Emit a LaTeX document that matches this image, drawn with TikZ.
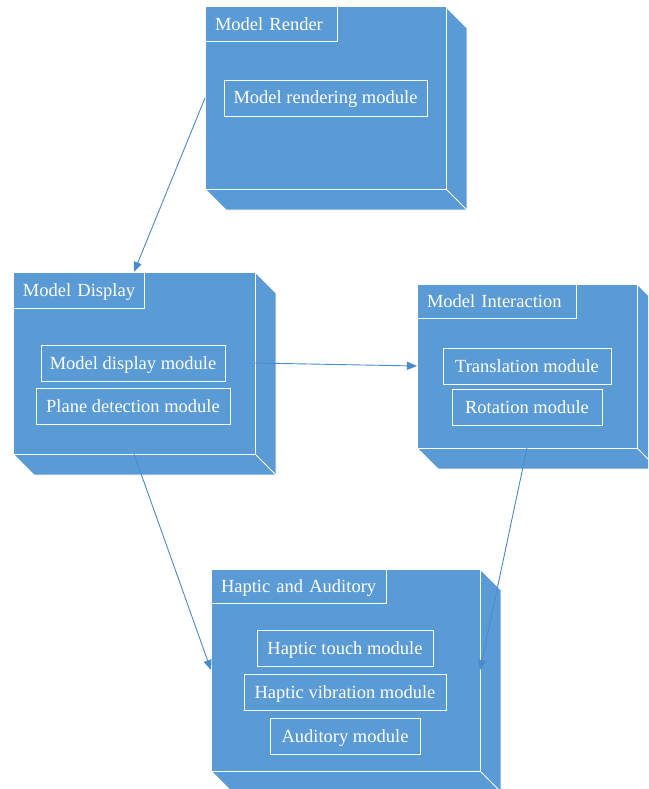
\documentclass[tikz,border=0pt]{standalone}
\usepackage{fontspec}
\setmainfont{Liberation Serif}
\usetikzlibrary{arrows.meta}
\definecolor{boxblue}{HTML}{5B9BD5}
\definecolor{arrblue}{HTML}{4A8BCB}
\tikzset{
  front/.style={draw=white, fill=boxblue, line width=1pt, inner sep=0pt, outer sep=0pt},
  extr/.style={fill=boxblue, draw=white, line width=1pt},
  tab/.style={draw=white, fill=boxblue, line width=1pt, text=white, align=left, inner xsep=10pt, inner ysep=0pt, outer sep=0pt, anchor=north west, text height=14pt, text depth=2pt, font=\fontsize{18.5pt}{22pt}\selectfont},
  module/.style={draw=white, line width=0.9pt, text=white, inner sep=0pt, outer sep=0pt, minimum height=36pt, text height=14pt, text depth=2pt, font=\fontsize{18.5pt}{22pt}\selectfont},
  conn/.style={draw=arrblue, line width=0.9pt, -{Triangle[length=10pt,width=8pt]}}
}
\newcommand\pkgbox[5]{%
  \path[extr] (#2,#3) -- ++(#4,0) -- ++(21,21) -- ++(0,#5) -- ++(-#4,0) -- ++(-21,-21) -- cycle;
  \node[front, minimum width=#4pt, minimum height=#5pt, anchor=north west] (#1) at (#2,#3) {};
  \draw[white, line width=1pt] (#1.south east) -- ++(21,21);
}
\begin{document}
\begin{tikzpicture}[x=1pt,y=-1pt]
\clip (0,0) rectangle (648,789);
\fill[white] (0,0) rectangle (648,789);

% Model Render
\pkgbox{render}{205}{7}{241}{182}
\node[tab, text width=112pt, minimum height=35pt] (renderT) at (render.north west) {\mbox{Model Render}};
\node[module, minimum width=203pt] (renderM) at (325.5,98) {Model rendering module};

% Model Display
\pkgbox{display}{13}{272}{242}{182}
\node[tab, text width=111pt, minimum height=36pt] (displayT) at (display.north west) {\mbox{Model Display}};
\node[module, minimum width=184pt] (displayM1) at (133,363) {Model display module};
\node[module, minimum width=194pt] (displayM2) at (133,406) {Plane detection module};

% Model Interaction
\pkgbox{interact}{417}{284}{220}{164}
\node[tab, text width=139pt, minimum height=34pt] (interactT) at (interact.north west) {\mbox{Model Interaction}};
\node[module, minimum width=168pt] (interactM1) at (527,366) {Translation module};
\node[module, minimum width=150pt] (interactM2) at (527,407) {Rotation module};

% Haptic and Auditory
\pkgbox{haptic}{211}{569}{269}{202}
\node[tab, text width=155pt, minimum height=34pt] (hapticT) at (haptic.north west) {\mbox{Haptic and Auditory}};
\node[module, minimum width=176pt] (hapticM1) at (345,648) {Haptic touch module};
\node[module, minimum width=202pt] (hapticM2) at (345,692) {Haptic vibration module};
\node[module, minimum width=150pt] (hapticM3) at (345,736) {Auditory module};

% connectors
\draw[conn] (render.west) -- (display.north);
\draw[conn] (display.east) -- (interact.west);
\draw[conn] (display.south) -- (haptic.west);
\draw[conn] (interact.south) -- (haptic.east);
\end{tikzpicture}
\end{document}
